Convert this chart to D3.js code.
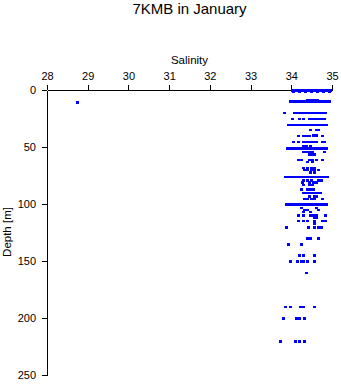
<!DOCTYPE html>
<html><head><meta charset="utf-8">
<script src="https://cdn.jsdelivr.net/npm/d3@7"></script>
<style>
body{margin:0;background:#fff;}
svg{display:block;font-family:"Liberation Sans",Arial,sans-serif;}
</style></head>
<body><svg id="c" width="341" height="384"></svg>
<script>
const title = "7KMB in January";
const xLabel = "Salinity";
const yLabel = "Depth [m]";
const xTicks = [28,29,30,31,32,33,34,35];
const yTicks = [0,50,100,150,200,250];

// depth of each observed row (m)
const rowDepths = [0,1,9,10.8,10,20,25,30.5,35,39.5,40,45.6,49,51,54,56.5,61,63,68,70,72,76,79,81,83,87,90,93,95.6,100,103.5,105,107,110,112,114.5,116.7,120.6,130,135.5,145,150,160.5,190,200,220.5];
// salinity readings in each row
const rowSalinities = [
 [34.03,34.06,34.1,34.15,34.18,34.22,34.27,34.3,34.34,34.39,34.42,34.46,34.5,34.55,34.58,34.62,34.66,34.7,34.75,34.78,34.82,34.86,34.9,34.94,34.97],
 [34.05,34.2,34.35,34.5,34.65,34.8,34.95],
 [34.4,34.45,34.5,34.55,34.6,34.65],
 [28.75],
 [33.98,34.02,34.06,34.1,34.14,34.18,34.22,34.26,34.3,34.34,34.38,34.42,34.46,34.5,34.54,34.58,34.62,34.66,34.7,34.74,34.78,34.82,34.86,34.9,34.93],
 [33.84,34.08,34.12,34.16,34.2,34.24,34.28,34.32,34.36,34.4,34.44,34.48,34.52,34.56,34.6,34.64,34.68,34.72,34.76,34.8,34.84],
 [34.02,34.19,34.31,34.44,34.49,34.53,34.57,34.61,34.65,34.69,34.73,34.77,34.81],
 [33.93,33.97,34.01,34.05,34.09,34.13,34.17,34.21,34.25,34.29,34.33,34.37,34.41,34.45,34.49,34.53,34.57,34.61,34.65,34.69,34.73,34.77,34.81,34.85,34.87],
 [34.48,34.61,34.66],
 [34.55,34.63],
 [34.17,34.31,34.38,34.44,34.76],
 [34.05,34.17,34.31,34.36,34.41,34.46,34.51,34.56,34.61,34.76,34.81],
 [34.31,34.38,34.46],
 [33.91,33.95,33.99,34.03,34.07,34.11,34.15,34.19,34.23,34.27,34.31,34.35,34.39,34.43,34.47,34.51,34.55,34.59,34.63,34.67,34.71,34.75,34.79,34.83,34.87],
 [34.31,34.36,34.41,34.46,34.53,34.81],
 [34.44,34.51,34.58],
 [34.17,34.26,34.44,34.51,34.61,34.76],
 [34.41,34.51],
 [34.29,34.41,34.49,34.58],
 [34.33,34.41,34.49,34.58,34.66],
 [34.46,34.56],
 [33.85,33.89,33.93,33.97,34.01,34.05,34.09,34.13,34.17,34.21,34.25,34.29,34.33,34.37,34.41,34.45,34.49,34.53,34.57,34.61,34.65,34.69,34.73,34.77,34.81,34.85,34.88],
 [34.31,34.41,34.49,34.66,34.73],
 [34.28,34.44,34.55,34.61],
 [34.29,34.44,34.53],
 [34.24,34.41,34.46,34.55],
 [34.29,34.33,34.37,34.41,34.45,34.49,34.53,34.57,34.61,34.65,34.69,34.71],
 [34.44,34.56,34.61],
 [34.33,34.41,34.49,34.58,34.76],
 [33.88,33.92,33.96,34.0,34.04,34.08,34.12,34.16,34.2,34.24,34.28,34.32,34.36,34.4,34.44,34.48,34.52,34.56,34.6,34.64,34.68,34.72,34.76,34.8,34.84,34.87],
 [34.24,34.61],
 [34.33,34.41,34.66],
 [34.31,34.46],
 [34.18,34.31,34.46,34.54,34.63,34.83],
 [34.56,34.61],
 [34.18,34.31,34.41,34.56,34.76,34.85],
 [34.56],
 [33.89,34.43,34.56,34.66,34.75],
 [34.4,34.46,34.66],
 [33.93,34.25],
 [34.19,34.29,34.56],
 [33.98,34.15,34.24,34.31,34.41,34.56],
 [34.38],
 [33.86,33.98,34.22,34.29,34.56],
 [33.81,34.14,34.2,34.33],
 [33.74,34.1,34.19,34.33]
];

const points = [];
rowDepths.forEach((d,i)=>rowSalinities[i].forEach(s=>points.push({s:s,d:d})));

const svg = d3.select("#c");
const x = d3.scaleLinear().domain([28,35]).range([47,332]);
const y = d3.scaleLinear().domain([0,250]).range([90,375]);

svg.append("text").attr("x",189.5).attr("y",14).attr("text-anchor","middle")
  .attr("font-size",15).attr("fill","#000").text(title);
svg.append("text").attr("x",189.5).attr("y",64).attr("text-anchor","middle")
  .attr("font-size",11.5).attr("fill","#000").text(xLabel);
svg.append("text").attr("transform","translate(11,232) rotate(-90)").attr("text-anchor","middle")
  .attr("font-size",11.5).attr("fill","#000").text(yLabel);

const gx = svg.append("g").attr("transform","translate(0,90)")
  .call(d3.axisTop(x).tickValues(xTicks).tickFormat(d3.format("d")).tickSize(5).tickSizeOuter(0).tickPadding(5));
const gy = svg.append("g").attr("transform","translate(47,0)")
  .call(d3.axisLeft(y).tickValues(yTicks).tickFormat(d3.format("d")).tickSize(5).tickSizeOuter(0).tickPadding(6));
[gx,gy].forEach(g=>{
  g.attr("font-family",'"Liberation Sans",Arial,sans-serif').attr("font-size",11);
  g.selectAll("path,line").attr("stroke","#000").attr("shape-rendering","crispEdges");
  g.selectAll("text").attr("fill","#000");
});

svg.append("g").selectAll("rect").data(points).join("rect")
  .attr("x",p=>x(p.s)-1.5).attr("y",p=>y(p.d)-1)
  .attr("width",3).attr("height",2.5).attr("fill","#0000ff")
  .attr("shape-rendering","crispEdges");
</script></body></html>
